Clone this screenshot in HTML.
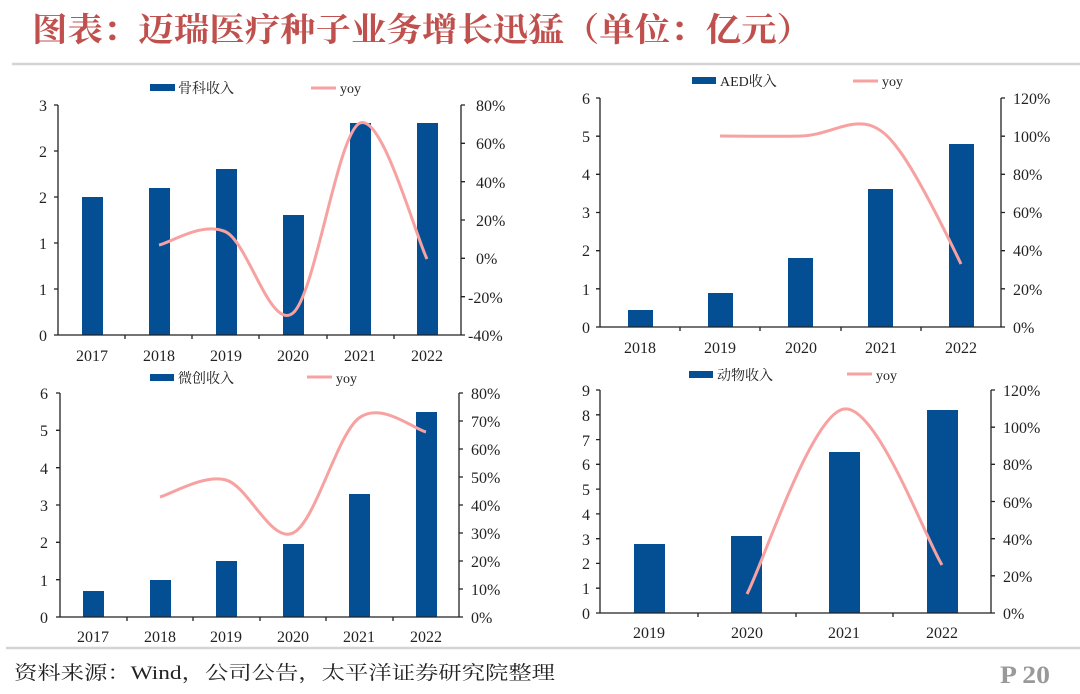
<!DOCTYPE html>
<html><head><meta charset="utf-8"><style>
html,body{margin:0;padding:0;background:#fff;}
svg{display:block;}
text{font-family:"Liberation Serif","Noto Serif CJK SC",serif;fill:#222;}
.t{font-size:16px;}
.l{font-size:14px;font-family:"Liberation Serif","Noto Serif CJK SC",serif;}
.bar{fill:#044e93;}
.ln{fill:none;stroke:#f7a1a1;stroke-width:3;}
.ax{stroke:#222;stroke-width:1.3;fill:none;}
</style></head><body>
<svg width="1080" height="694" viewBox="0 0 1080 694" xmlns="http://www.w3.org/2000/svg">
<text x="32" y="41" font-size="33" textLength="780" lengthAdjust="spacingAndGlyphs" style="fill:#c0504d;font-family:'Noto Serif CJK SC','Liberation Serif',serif;font-weight:bold;">图表：迈瑞医疗种子业务增长迅猛（单位：亿元）</text>
<line x1="12" y1="64" x2="1080" y2="64" stroke="#d4d4d4" stroke-width="2.5"/>
<line x1="6" y1="648" x2="1080" y2="648" stroke="#d4d4d4" stroke-width="2.5"/>
<text x="14" y="679" font-size="19" textLength="541" lengthAdjust="spacingAndGlyphs" style="fill:#222;">资料来源：Wind，公司公告，太平洋证券研究院整理</text>
<text x="1000" y="683" font-size="25" textLength="50" lengthAdjust="spacingAndGlyphs" style="fill:#999;font-weight:bold;">P 20</text>

<!-- Chart 1 -->
<g>
<rect x="150" y="84" width="25" height="7" class="bar"/><text x="178" y="93" class="l">骨科收入</text>
<line x1="311" y1="88" x2="336" y2="88" class="ln"/><text x="340" y="93" class="l">yoy</text>
<rect x="82" y="197" width="21" height="138" class="bar"/>
<rect x="149" y="188" width="21" height="147" class="bar"/>
<rect x="216" y="169" width="21" height="166" class="bar"/>
<rect x="283" y="215" width="21" height="120" class="bar"/>
<rect x="350" y="123" width="21" height="212" class="bar"/>
<rect x="417" y="123" width="21" height="212" class="bar"/>
<path class="ax" d="M58 105V335M461 105V335M54 335H465M54 105H58M54 151H58M54 197H58M54 243H58M54 289H58M461 105H465M461 143.3H465M461 181.7H465M461 220H465M461 258.3H465M461 296.7H465M125 335V339M192 335V339M259 335V339M327 335V339M394 335V339"/>
<path class="ln" d="M159 245C170.2 242.8 203.7 220.7 226 232C248.3 243.3 270.7 331.2 293 313C315.3 294.8 337.7 132.3 360 123C382.3 113.7 415.8 236.3 427 259"/>
<g class="t" text-anchor="end"><text x="47" y="111">3</text><text x="47" y="157">2</text><text x="47" y="203">2</text><text x="47" y="249">1</text><text x="47" y="295">1</text><text x="47" y="341">0</text></g>
<g class="t"><text x="476" y="111">80%</text><text x="476" y="149">60%</text><text x="476" y="188">40%</text><text x="476" y="226">20%</text><text x="476" y="264">0%</text><text x="468" y="303">-20%</text><text x="468" y="341">-40%</text></g>
<g class="t" text-anchor="middle"><text x="92" y="361">2017</text><text x="159" y="361">2018</text><text x="226" y="361">2019</text><text x="293" y="361">2020</text><text x="360" y="361">2021</text><text x="427" y="361">2022</text></g>
</g>

<!-- Chart 2 -->
<g>
<rect x="692" y="77" width="24" height="7" class="bar"/><text x="720" y="86" class="l">AED收入</text>
<line x1="853" y1="81" x2="878" y2="81" class="ln"/><text x="882" y="86" class="l">yoy</text>
<rect x="628" y="310" width="25" height="17" class="bar"/>
<rect x="708" y="293" width="25" height="34" class="bar"/>
<rect x="788" y="258" width="25" height="69" class="bar"/>
<rect x="868" y="189" width="25" height="138" class="bar"/>
<rect x="949" y="144" width="25" height="183" class="bar"/>
<path class="ax" d="M600 98V327M1001 98V327M596 327H1005M596 98H600M596 136.2H600M596 174.3H600M596 212.5H600M596 250.7H600M596 288.8H600M1001 98H1005M1001 136.2H1005M1001 174.3H1005M1001 212.5H1005M1001 250.7H1005M1001 288.8H1005M680 327V331M760 327V331M841 327V331M921 327V331"/>
<path class="ln" d="M720 136C733.5 136 774.2 136.7 801 136C827.8 135.3 850 118 872 126C890 133 907.7 153.3 961 264"/>
<g class="t" text-anchor="end"><text x="590" y="104">6</text><text x="590" y="142">5</text><text x="590" y="180">4</text><text x="590" y="218">3</text><text x="590" y="256">2</text><text x="590" y="295">1</text><text x="590" y="333">0</text></g>
<g class="t"><text x="1013" y="104">120%</text><text x="1013" y="142">100%</text><text x="1013" y="180">80%</text><text x="1013" y="218">60%</text><text x="1013" y="256">40%</text><text x="1013" y="295">20%</text><text x="1013" y="333">0%</text></g>
<g class="t" text-anchor="middle"><text x="640" y="353">2018</text><text x="720" y="353">2019</text><text x="801" y="353">2020</text><text x="881" y="353">2021</text><text x="961" y="353">2022</text></g>
</g>

<!-- Chart 3 -->
<g>
<rect x="150" y="374" width="24" height="7" class="bar"/><text x="178" y="383" class="l">微创收入</text>
<line x1="307" y1="377" x2="332" y2="377" class="ln"/><text x="336" y="383" class="l">yoy</text>
<rect x="83" y="591" width="21" height="26" class="bar"/>
<rect x="150" y="580" width="21" height="37" class="bar"/>
<rect x="216" y="561" width="21" height="56" class="bar"/>
<rect x="283" y="544" width="21" height="73" class="bar"/>
<rect x="349" y="494" width="21" height="123" class="bar"/>
<rect x="416" y="412" width="21" height="205" class="bar"/>
<path class="ax" d="M60 393V617M459 393V617M56 617H463M56 393H60M56 430.3H60M56 467.7H60M56 505H60M56 542.3H60M56 579.7H60M459 393H463M459 421H463M459 449H463M459 477H463M459 505H463M459 533H463M459 561H463M459 589H463M127 617V621M193 617V621M260 617V621M326 617V621M393 617V621"/>
<path class="ln" d="M160 497C171 494.2 203.8 474 226 480C248.2 486 270.8 543.3 293 533C315.2 522.7 336.8 434.8 359 418C381.2 401.2 414.8 429.7 426 432"/>
<g class="t" text-anchor="end"><text x="48" y="399">6</text><text x="48" y="436">5</text><text x="48" y="474">4</text><text x="48" y="511">3</text><text x="48" y="548">2</text><text x="48" y="586">1</text><text x="48" y="623">0</text></g>
<g class="t"><text x="471" y="399">80%</text><text x="471" y="427">70%</text><text x="471" y="455">60%</text><text x="471" y="483">50%</text><text x="471" y="511">40%</text><text x="471" y="539">30%</text><text x="471" y="567">20%</text><text x="471" y="595">10%</text><text x="471" y="623">0%</text></g>
<g class="t" text-anchor="middle"><text x="93" y="642">2017</text><text x="160" y="642">2018</text><text x="226" y="642">2019</text><text x="293" y="642">2020</text><text x="359" y="642">2021</text><text x="426" y="642">2022</text></g>
</g>

<!-- Chart 4 -->
<g>
<rect x="689" y="371" width="24" height="7" class="bar"/><text x="717" y="380" class="l">动物收入</text>
<line x1="847" y1="374" x2="872" y2="374" class="ln"/><text x="876" y="380" class="l">yoy</text>
<rect x="634" y="544" width="31" height="69" class="bar"/>
<rect x="731" y="536" width="31" height="77" class="bar"/>
<rect x="829" y="452" width="31" height="161" class="bar"/>
<rect x="927" y="410" width="31" height="203" class="bar"/>
<path class="ax" d="M600 390V613M991 390V613M596 613H995M596 390H600M596 414.8H600M596 439.6H600M596 464.3H600M596 489.1H600M596 513.9H600M596 538.7H600M596 563.4H600M596 588.2H600M991 390H995M991 427.2H995M991 464.3H995M991 501.5H995M991 538.7H995M991 575.8H995M698 613V617M796 613V617M893 613V617"/>
<path class="ln" d="M747 594C763.2 563.2 811.5 413.8 844 409C876.5 404.2 925.7 539 942 565"/>
<g class="t" text-anchor="end"><text x="590" y="396">9</text><text x="590" y="421">8</text><text x="590" y="446">7</text><text x="590" y="470">6</text><text x="590" y="495">5</text><text x="590" y="520">4</text><text x="590" y="545">3</text><text x="590" y="569">2</text><text x="590" y="594">1</text><text x="590" y="619">0</text></g>
<g class="t"><text x="1003" y="396">120%</text><text x="1003" y="433">100%</text><text x="1003" y="470">80%</text><text x="1003" y="508">60%</text><text x="1003" y="545">40%</text><text x="1003" y="582">20%</text><text x="1003" y="619">0%</text></g>
<g class="t" text-anchor="middle"><text x="649" y="638">2019</text><text x="747" y="638">2020</text><text x="844" y="638">2021</text><text x="942" y="638">2022</text></g>
</g>
</svg>
</body></html>
